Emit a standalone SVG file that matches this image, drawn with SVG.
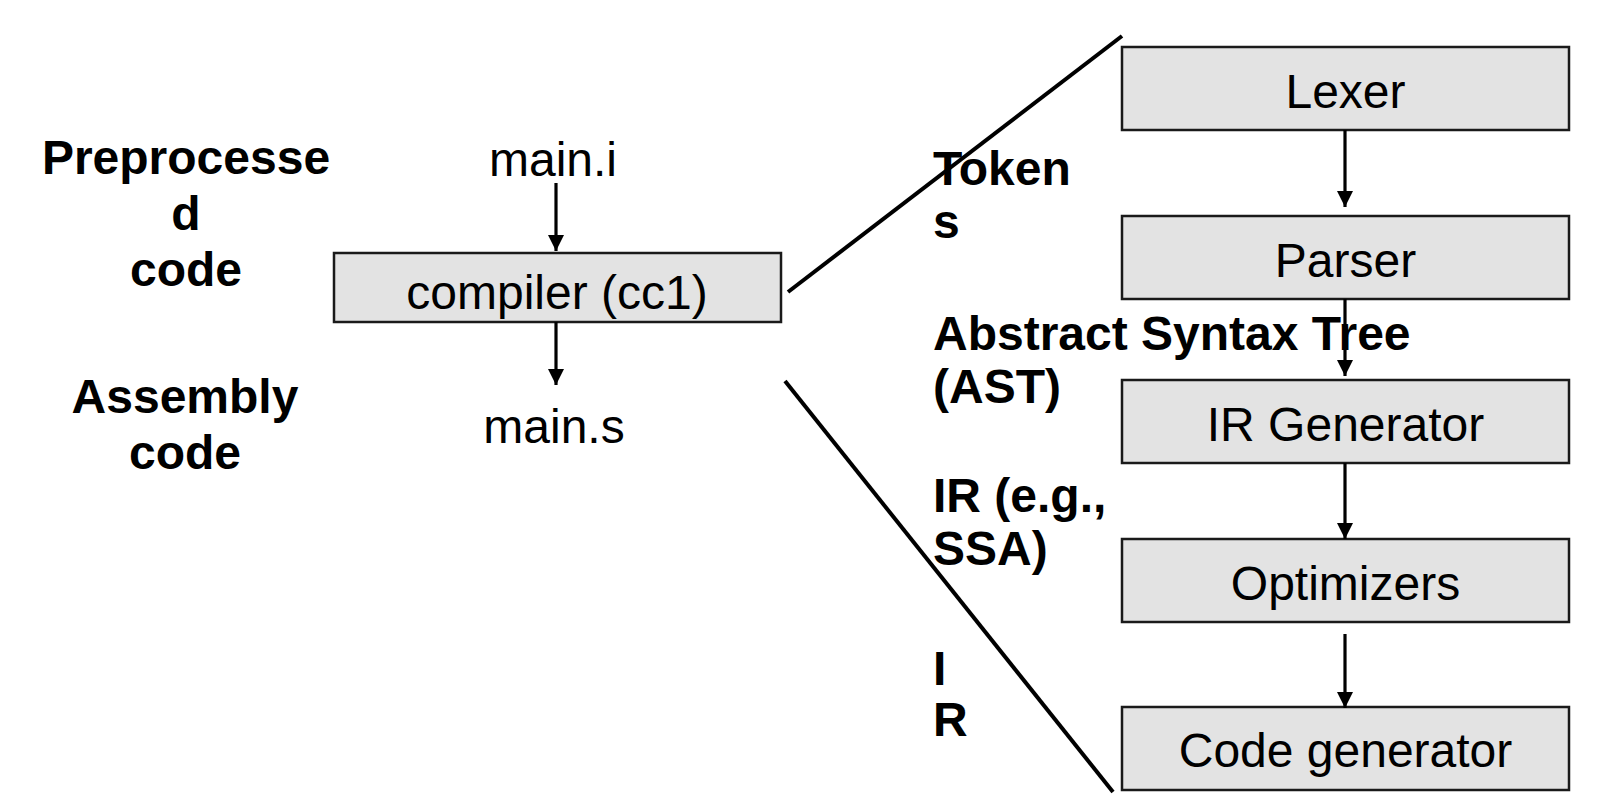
<svg xmlns="http://www.w3.org/2000/svg" width="1598" height="806" viewBox="0 0 1598 806">
<style>
.box{fill:#e3e3e3;stroke:#1a1a1a;stroke-width:2.5}
.t{font-family:"Liberation Sans",Arial,sans-serif;font-size:48px;fill:#000}
.c{text-anchor:middle}
.b{font-weight:bold}
.arr{stroke:#000;stroke-width:3.2;fill:none;marker-end:url(#ah)}
.diag{stroke:#000;stroke-width:4;fill:none}
</style>
<defs>
<marker id="ah" markerWidth="5" markerHeight="5" refX="5" refY="2.5" orient="auto" markerUnits="strokeWidth">
<path d="M0,0 L5,2.5 L0,5 Z" fill="#000"/>
</marker>
</defs>
<rect width="1598" height="806" fill="#fff"/>
<g id="labels">
<text class="t b c" x="186" y="174">Preprocesse</text>
<text class="t b c" x="186" y="230">d</text>
<text class="t b c" x="186" y="286">code</text>
<text class="t b c" x="185" y="413">Assembly</text>
<text class="t b c" x="185" y="469">code</text>
<text class="t b" x="933" y="185">Token</text>
<text class="t b" x="933" y="238">s</text>
<text class="t b" x="933" y="350">Abstract Syntax Tree</text>
<text class="t b" x="933" y="403">(AST)</text>
<text class="t b" x="933" y="512">IR (e.g.,</text>
<text class="t b" x="933" y="565">SSA)</text>
<text class="t b" x="933" y="685">I</text>
<text class="t b" x="933" y="736">R</text>
</g>
<g id="main-i"><text class="t c" x="553" y="176">main.i</text></g>
<g id="main-s"><text class="t c" x="554" y="443">main.s</text></g>
<g id="compiler">
<rect class="box" x="334" y="253" width="447" height="69"/>
<text class="t c" x="557" y="309">compiler (cc1)</text>
</g>
<g id="lexer">
<rect class="box" x="1122" y="47" width="447" height="83"/>
<text class="t c" x="1345.5" y="108">Lexer</text>
</g>
<g id="parser">
<rect class="box" x="1122" y="216" width="447" height="83"/>
<text class="t c" x="1345.5" y="277">Parser</text>
</g>
<g id="irgen">
<rect class="box" x="1122" y="380" width="447" height="83"/>
<text class="t c" x="1345.5" y="441">IR Generator</text>
</g>
<g id="optimizers">
<rect class="box" x="1122" y="539" width="447" height="83"/>
<text class="t c" x="1345.5" y="600">Optimizers</text>
</g>
<g id="codegen">
<rect class="box" x="1122" y="707" width="447" height="83"/>
<text class="t c" x="1345.5" y="767">Code generator</text>
</g>
<g id="connectors">
<line class="arr" x1="556" y1="183" x2="556" y2="251"/>
<line class="arr" x1="556" y1="322" x2="556" y2="385"/>
<line class="arr" x1="1345" y1="130" x2="1345" y2="207"/>
<line class="arr" x1="1345" y1="299" x2="1345" y2="376"/>
<line class="arr" x1="1345" y1="463" x2="1345" y2="539"/>
<line class="arr" x1="1345" y1="634" x2="1345" y2="708"/>
<line class="diag" x1="788" y1="292" x2="1122" y2="36"/>
<line class="diag" x1="785" y1="381" x2="1113" y2="792"/>
</g>
</svg>
